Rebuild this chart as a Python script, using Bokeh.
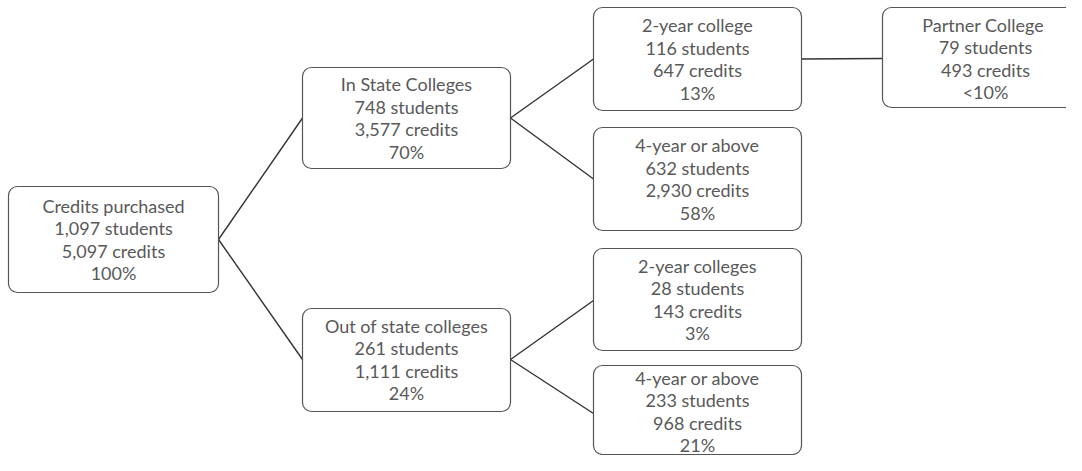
from bokeh.plotting import figure
from bokeh.models import ColumnDataSource, Range1d
from bokeh.core.properties import value
from bokeh.embed import file_html
from bokeh.resources import INLINE

# ---- data ----
titles = ["Credits purchased", "In State Colleges", "Out of state colleges",
          "2-year college", "4-year or above", "2-year colleges", "4-year or above",
          "Partner  College"]
students = ["1,097 students", "748 students", "261 students",
            "116 students", "632 students", "28 students", "233 students",
            "79 students"]
credits = ["5,097 credits", "3,577 credits", "1,111 credits",
           "647 credits", "2,930 credits", "143 credits", "968 credits",
           "493 credits"]
percents = ["100%", "70%", "24%", "13%", "58%", "3%", "21%", "<10%"]
edges = [(0, 1), (0, 2), (1, 3), (1, 4), (2, 5), (2, 6), (3, 7)]

# ---- layout (pixel positions of boxes) ----
box_left = [8, 302, 302, 593, 593, 593, 593, 882]
box_right = [218, 510, 510, 801, 801, 801, 801, 1100]
box_top = [186, 67, 308, 7, 127, 248, 365, 7]
box_bottom = [292, 168, 411, 110, 230, 350, 454, 107]
box_cy = [239, 117.5, 359, 58.5, 178.5, 299, 411, 58]
text_cx = [113, 406, 406, 697, 697, 697, 697, 985]

W, H = 1066, 455
p = figure(width=W, height=H, output_backend="svg", toolbar_location=None,
           x_range=Range1d(0, W), y_range=Range1d(H, 0),
           min_border=0, outline_line_color=None)
p.axis.visible = False
p.grid.visible = False
p.background_fill_color = "white"

# connectors
x0, y0, x1, y1 = [], [], [], []
for a, b in edges:
    x0.append(box_right[a]); y0.append(box_cy[a])
    x1.append(box_left[b]); y1.append(box_cy[b])
x1[4] = box_left[5]; y1[4] = 300
x1[5] = box_left[6]; y1[5] = 413
p.segment(x0=x0, y0=y0, x1=x1, y1=y1, line_color="#333333", line_width=1.4)

# boxes
p.quad(left=box_left, right=box_right, top=box_top, bottom=box_bottom,
       fill_color="white", line_color="#555555", line_width=1.2,
       border_radius=9)

# texts
tx, ty, tt = [], [], []
LS = 22.5
for i in range(len(titles)):
    for k, s in enumerate([titles[i], students[i], credits[i], percents[i]]):
        tx.append(text_cx[i])
        ty.append(box_cy[i] + (k - 1.5) * LS)
        tt.append(s)
src = ColumnDataSource(dict(x=tx, y=ty, text=tt))
p.text(x="x", y="y", text="text", source=src, text_align="center",
       text_baseline="middle", text_font=value("Lato"),
       text_font_size="18px", text_color="#595959")

open("out.html", "w").write(file_html(p, INLINE))
